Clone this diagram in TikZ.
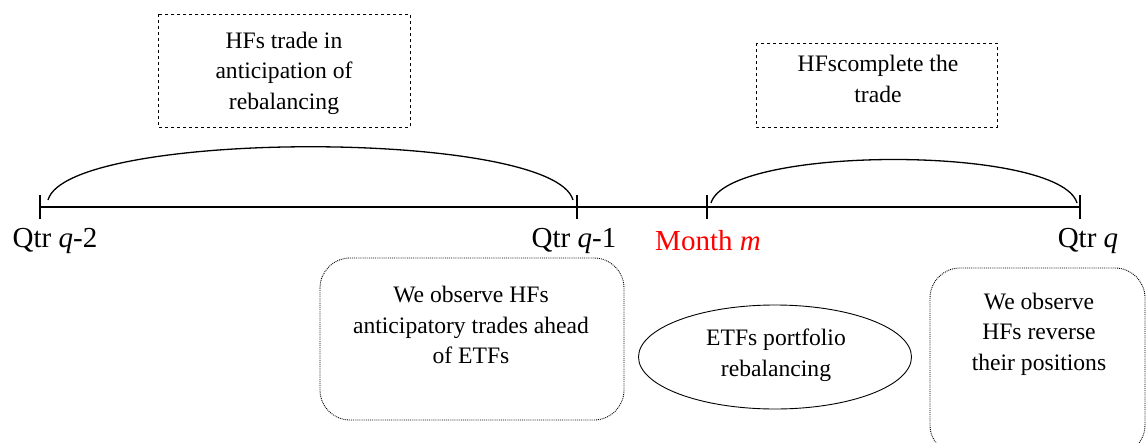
\documentclass[tikz,border=0pt]{standalone}
\usepackage{fontspec}
\setmainfont{Liberation Serif}
\usetikzlibrary{shapes.geometric}
\begin{document}
\begin{tikzpicture}[x=1pt,y=-1pt,
  txt/.style={align=center,font=\fontsize{23.6}{30.5}\selectfont,inner sep=0pt},
  lbl/.style={font=\fontsize{29}{32}\selectfont,inner sep=0pt},
  dbox/.style={draw,dashed,line width=0.9pt},
  rbox/.style={draw,densely dotted,line width=0.9pt,rounded corners=30pt},
  axis/.style={line width=1.3pt},
  arcline/.style={line width=1.3pt}]
\useasboundingbox (0,0) rectangle (1146,442);
% timeline
\coordinate (t0) at (40,207);
\coordinate (t1) at (577,207);
\coordinate (t2) at (707,207);
\coordinate (t3) at (1080,207);
\draw[axis] (t0) -- (t3);
\foreach \t in {t0,t1,t2,t3}{\draw[axis] ([yshift=-12pt]\t) -- ([yshift=12pt]\t);}
% labels
\node[lbl] (l0) at (55,241) {Qtr \textit{q}-2};
\node[lbl] (l1) at (574,241) {Qtr \textit{q}-1};
\node[lbl,text=red] (l2) at (708,241) {Month \textit{m}};
\node[lbl] (l3) at (1088,241) {Qtr \textit{q}};
% arcs
\coordinate (a1s) at (48,200);
\coordinate (a1e) at (573,200);
\coordinate (a2s) at (711,203);
\coordinate (a2e) at (1077,203);
\draw[arcline] (a1s) .. controls (68,129) and (553,129) .. (a1e);
\draw[arcline] (a2s) .. controls (728,145) and (1060,145) .. (a2e);
% top dashed boxes
\draw[dbox] (158,14) rectangle (410,127);
\node[txt] (b1) at (284,73) {HFs trade in\\anticipation of\\rebalancing};
\draw[dbox] (756,43) rectangle (997,127);
\node[txt] (b2) at (878,79) {HFscomplete the\\trade};
% bottom boxes
\draw[rbox] (320,258) rectangle (624,420);
\node[txt] (c1) at (471,325) {We observe HFs\\anticipatory trades ahead\\of ETFs};
\node[draw,ellipse,line width=0.9pt,minimum width=273pt,minimum height=104pt] (e1) at (775,357) {};
\node[txt] (c2) at (776,355) {ETFs portfolio\\rebalancing};
\draw[rbox] (930,268) rectangle (1145,455);
\node[txt] (c3) at (1039,334) {We observe\\HFs reverse\\their positions};
\end{tikzpicture}
\end{document}
